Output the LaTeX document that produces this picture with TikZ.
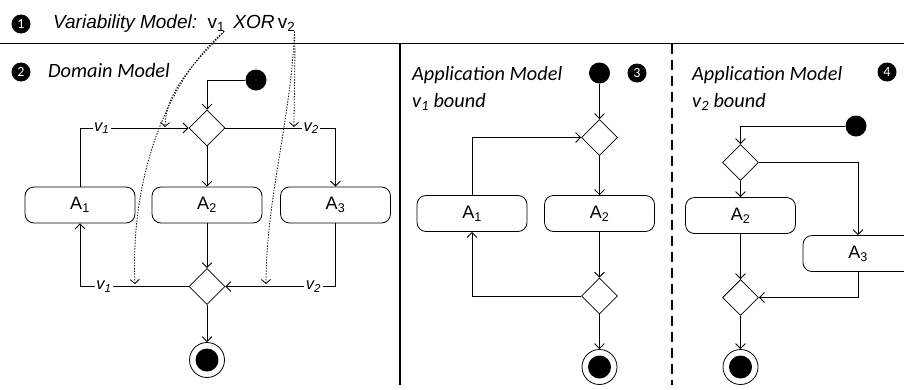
\documentclass[tikz,border=0pt]{standalone}
\usepackage{fontspec}
\setmainfont{Liberation Sans}
\newfontfamily\calfont{Carlito}
\usepackage{tikz}
\usetikzlibrary{arrows.meta,shapes.geometric,positioning}
\tikzstyle{action} = [rectangle, rounded corners=9pt, minimum width=110pt, minimum height=36pt, draw, line width=0.8pt, font=\fontsize{18}{18}\selectfont]
\tikzstyle{choice} = [diamond, minimum width=36pt, minimum height=36pt, inner sep=0pt, draw, line width=0.8pt]
\tikzstyle{start} = [circle, fill=black, minimum size=21pt, inner sep=0pt]
\tikzstyle{stop} = [circle, draw, line width=0.8pt, minimum size=35pt, inner sep=0pt, path picture={\fill (path picture bounding box.center) circle (11.5pt);}]
\tikzstyle{badge} = [circle, fill=black, minimum size=19pt, inner sep=0pt, text=white, font=\calfont\fontsize{14}{14}\selectfont]
\tikzstyle{flow} = [line width=0.8pt, ->, >={Straight Barb[length=5pt,width=10pt]}]
\tikzstyle{trace} = [dash pattern=on 1.4pt off 1.4pt, line width=0.8pt, ->, >={Straight Barb[length=4pt,width=9pt]}]
\tikzstyle{guard} = [fill=white, inner sep=1.5pt, font=\fontsize{16.5}{16.5}\selectfont\itshape]
\tikzstyle{title} = [anchor=base west, inner sep=0pt, font=\calfont\fontsize{20.3}{21}\selectfont\itshape]
\tikzstyle{hdr} = [inner sep=0pt, font=\fontsize{19}{19}\selectfont]

\begin{document}
\begin{tikzpicture}[x=1pt, y=-1pt]
\useasboundingbox (0,0) rectangle (904,389);
\clip (0,0) rectangle (904,389);

% Variability model
\node[badge] (b1) at (21,24) {1};
\node[hdr, anchor=base west, font=\fontsize{19}{19}\selectfont\itshape] (vm) at (53,28) {Variability Model:};
\node[hdr, base right=10pt of vm] (vone) {v\textsubscript{1}};
\node[hdr, base right=8pt of vone, font=\fontsize{19}{19}\selectfont\itshape] (xor) {XOR};
\node[hdr, base right=3pt of xor] (vtwo) {v\textsubscript{2}};

% panel borders
\draw[line width=1.2pt] (0,43.5) -- (904,43.5);
\draw[line width=1.2pt] (400,43.5) -- (400,385);
\draw[line width=1.2pt, dash pattern=on 10pt off 6pt] (672,43.5) -- (672,385);

% Domain model
\node[badge] (b2) at (21,72) {2};
\node[title] (dmt) at (48,77) {Domain Model};
\node[start] (ini) at (256,80) {};
\node[choice] (dec) at (207,128) {};
\node[action] (aone) at (80,205) {A\textsubscript{1}};
\node[action] (atwo) at (207,205) {A\textsubscript{2}};
\node[action] (athree) at (335.5,205) {A\textsubscript{3}};
\node[choice] (mrg) at (207,286.5) {};
\node[stop] (fin) at (207,360) {};

\draw[flow] (ini) -| (dec);
\draw[flow] (dec) -- (atwo);
\draw[flow] (aone) |- (dec) node[guard, pos=0.6] {v\textsubscript{1}};
\draw[flow] (dec) -| (athree) node[guard, pos=0.39] {v\textsubscript{2}};
\draw[flow] (atwo) -- (mrg);
\draw[flow] (mrg) -| (aone) node[guard, pos=0.39] {v\textsubscript{1}};
\draw[flow] (athree) |- (mrg) node[guard, pos=0.6] {v\textsubscript{2}};
\draw[flow] (mrg) -- (fin);

% binding traces
\coordinate (tv1) at (165,127);
\coordinate (bv1) at (135,284);
\coordinate (tv2) at (294,127);
\coordinate (bv2) at (266,284);
\draw[trace] ([xshift=-1pt]vone.south east) .. controls +(-28,30) and +(1,-37) .. (tv1);
\draw[trace] ([xshift=-1pt]vone.south east) .. controls +(-53,45) and +(-5,-114) .. (bv1);
\draw[trace] ([xshift=-1pt]vtwo.south east) .. controls +(1,30) and +(0,-27) .. (tv2);
\draw[trace] ([xshift=-1pt]vtwo.south east) .. controls +(-4,90) and +(0,-84) .. (bv2);

% Application model, v1 bound
\node[title] (amt3) at (412,80) {Application Model};
\node[title] (bnd3) at (412,107) {v\textsubscript{1} bound};
\node[start] (ini3) at (599.5,73) {};
\node[badge] (b3) at (637,73) {3};
\node[choice] (dec3) at (599.5,137.5) {};
\node[action] (aone3) at (472,213.5) {A\textsubscript{1}};
\node[action] (atwo3) at (599.5,213.5) {A\textsubscript{2}};
\node[choice] (mrg3) at (599.5,296) {};
\node[stop] (fin3) at (599.5,367) {};

\draw[flow] (ini3) -- (dec3);
\draw[flow] (dec3) -- (atwo3);
\draw[flow] (aone3) |- (dec3);
\draw[flow] (atwo3) -- (mrg3);
\draw[flow] (mrg3) -| (aone3);
\draw[flow] (mrg3) -- (fin3);

% Application model, v2 bound
\node[title] (amt4) at (692,80) {Application Model};
\node[title] (bnd4) at (692,107) {v\textsubscript{2} bound};
\node[badge] (b4) at (887,72) {4};
\node[start] (ini4) at (856,126) {};
\node[choice] (dec4) at (740.5,162.5) {};
\node[action] (atwo4) at (740.5,215.5) {A\textsubscript{2}};
\node[action] (athree4) at (858,253.5) {A\textsubscript{3}};
\node[choice] (mrg4) at (740.5,297.5) {};
\node[stop] (fin4) at (740.5,367) {};

\draw[flow] (ini4) -| (dec4);
\draw[flow] (dec4) -- (atwo4);
\draw[flow] (dec4) -| (athree4);
\draw[flow] (atwo4) -- (mrg4);
\draw[flow] (athree4) |- (mrg4);
\draw[flow] (mrg4) -- (fin4);
\end{tikzpicture}
\end{document}
